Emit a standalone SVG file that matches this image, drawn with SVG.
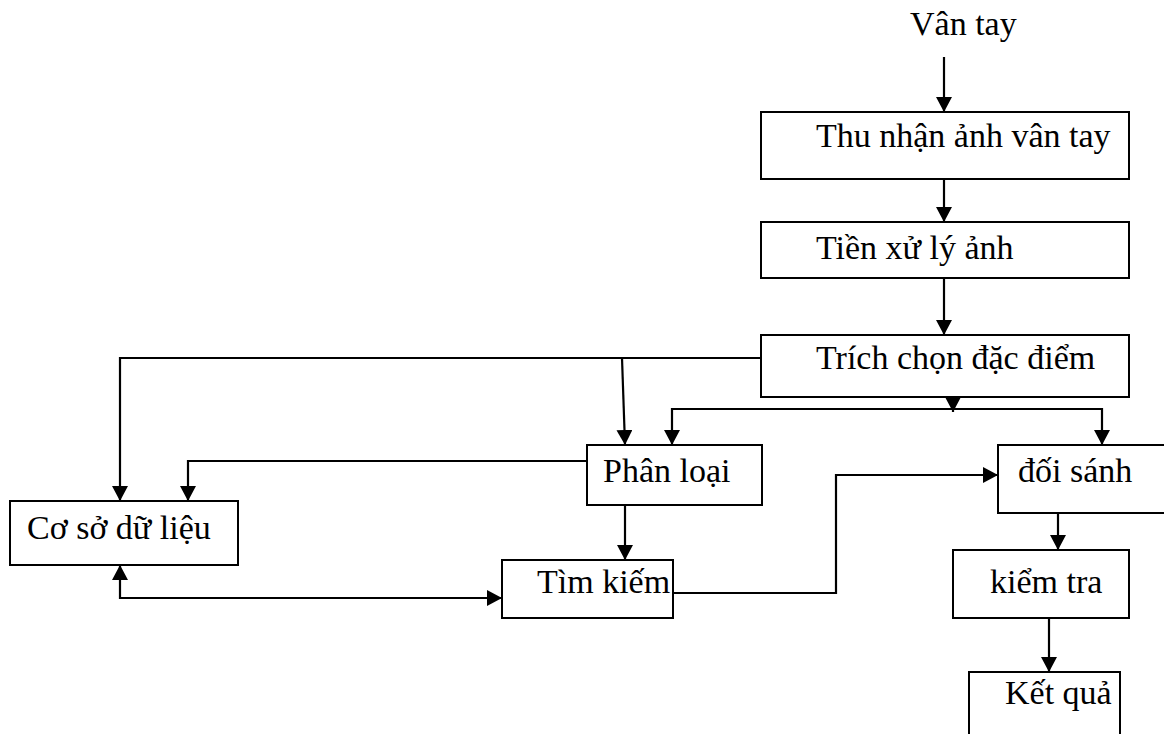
<svg xmlns="http://www.w3.org/2000/svg" width="1164" height="734" viewBox="0 0 1164 734">
  <style>
    .box { fill: #ffffff; stroke: #000000; stroke-width: 2; }
    .lbl { font-family: "Liberation Serif", "Times New Roman", serif; font-size: 34px; fill: #000000; }
    .wire { fill: none; stroke: #000000; stroke-width: 2.2; marker-end: url(#arrow); }
  </style>
  <defs>
    <marker id="arrow" viewBox="0 0 15 16" refX="15" refY="8" markerWidth="15" markerHeight="16" markerUnits="userSpaceOnUse" orient="auto-start-reverse">
      <path d="M0 0 L15 8 L0 16 Z" fill="#000000"/>
    </marker>
  </defs>
  <rect width="1164" height="734" fill="#ffffff"/>

  <!-- input label -->
  <g id="input">
    <text class="lbl" x="910" y="35">Vân tay</text>
  </g>

  <g id="acquire">
    <rect class="box" x="761" y="112" width="368" height="67"/>
    <text class="lbl" x="816" y="147">Thu nhận ảnh vân tay</text>
  </g>

  <g id="preprocess">
    <rect class="box" x="761" y="222" width="368" height="56"/>
    <text class="lbl" x="816" y="259">Tiền xử lý ảnh</text>
  </g>

  <g id="features">
    <rect class="box" x="761" y="335" width="368" height="62"/>
    <text class="lbl" x="816" y="369">Trích chọn đặc điểm</text>
  </g>

  <g id="database">
    <rect class="box" x="10" y="501" width="228" height="64"/>
    <text class="lbl" x="27" y="539">Cơ sở dữ liệu</text>
  </g>

  <g id="classify">
    <rect class="box" x="587" y="445" width="175" height="60"/>
    <text class="lbl" x="603" y="482">Phân loại</text>
  </g>

  <g id="search">
    <rect class="box" x="502" y="560" width="171" height="58"/>
    <text class="lbl" x="537" y="593">Tìm kiếm</text>
  </g>

  <g id="match">
    <rect class="box" x="998" y="445" width="180" height="68"/>
    <text class="lbl" x="1018" y="482">đối sánh</text>
  </g>

  <g id="verify">
    <rect class="box" x="953" y="550" width="176" height="68"/>
    <text class="lbl" x="990" y="593">kiểm tra</text>
  </g>

  <g id="result">
    <rect class="box" x="969" y="672" width="151" height="90"/>
    <text class="lbl" x="1005" y="704">Kết quả</text>
  </g>

  <g id="connectors">
    <path class="wire" d="M944 57 V112"/>
    <path class="wire" d="M944 179 V222"/>
    <path class="wire" d="M944 278 V335"/>
    <path class="wire" d="M761 358 H120 V501"/>
    <path class="wire" d="M622 358 L625 445"/>
    <path class="wire" d="M953 397 V412"/>
    <path class="wire" d="M953 409 H672 V445"/>
    <path class="wire" d="M953 409 H1102 V445"/>
    <path class="wire" d="M587 461 H188 V501"/>
    <path class="wire" d="M625 505 V560"/>
    <path class="wire" d="M120 565 V598 H502" style="marker-start: url(#arrow);"/>
    <path class="wire" d="M673 593 H836 V475 H998"/>
    <path class="wire" d="M1058 513 V550"/>
    <path class="wire" d="M1049 618 V672"/>
  </g>
</svg>
